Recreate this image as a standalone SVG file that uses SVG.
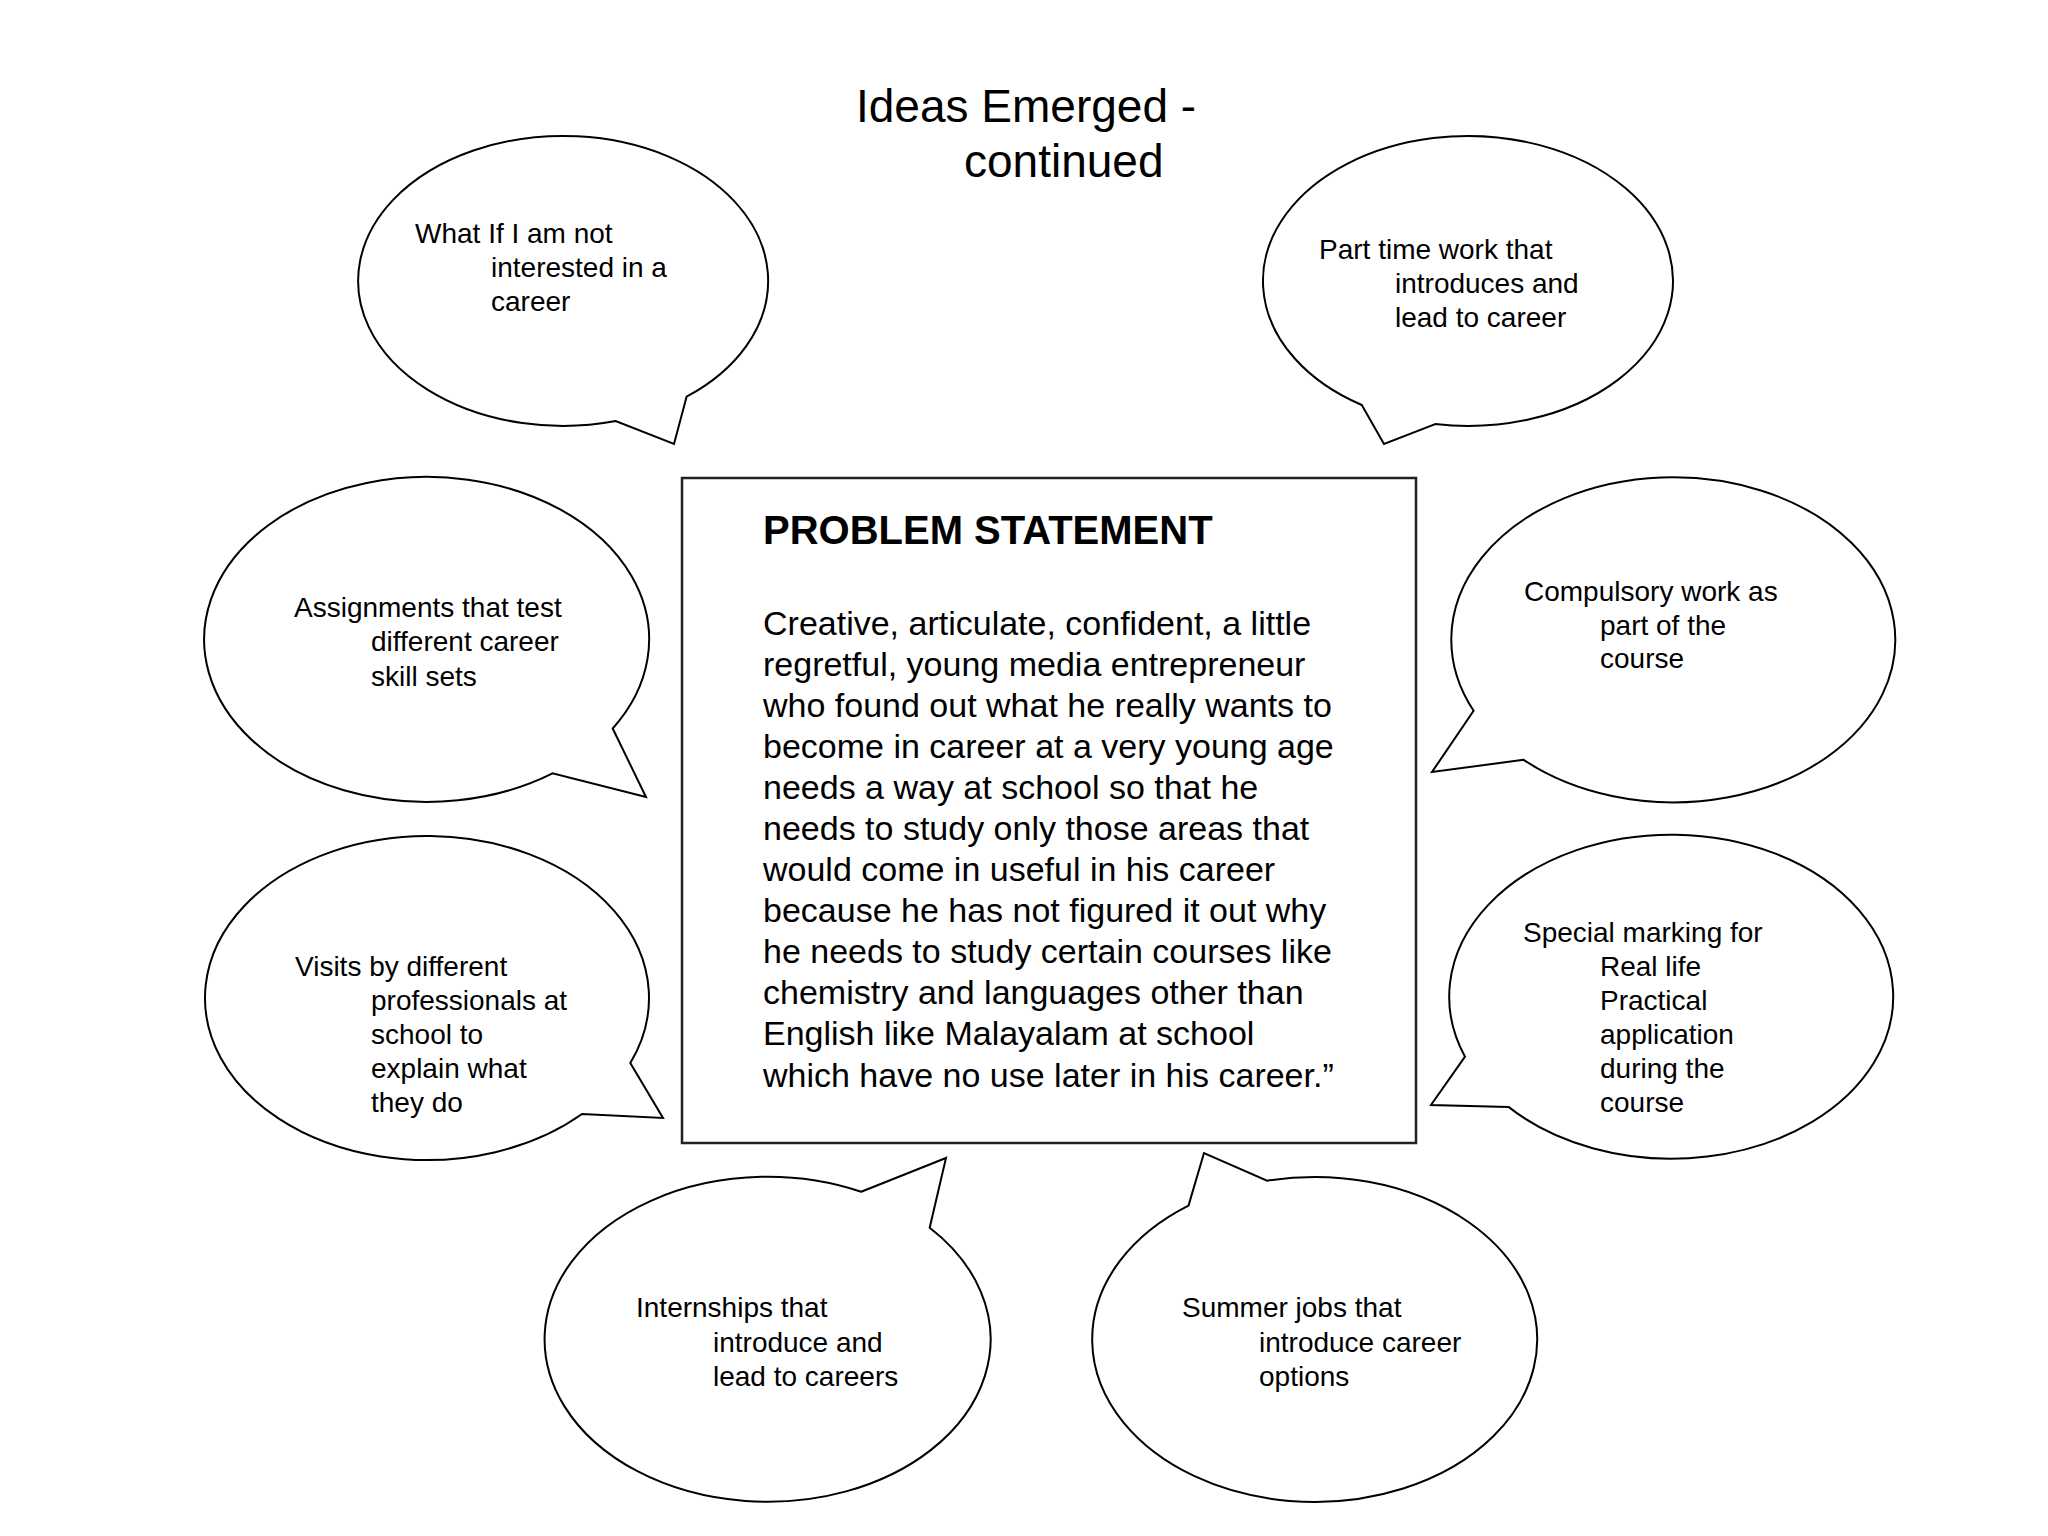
<svg xmlns="http://www.w3.org/2000/svg" width="2048" height="1536" viewBox="0 0 2048 1536">
<style>
.bg{fill:#fff}
.bubble{fill:#fff;stroke:#000;stroke-width:2;stroke-linejoin:miter}
.box{fill:#fff;stroke:#222;stroke-width:2.5}
.t{font-family:"Liberation Sans",Arial,sans-serif;fill:#000}
.title{font-size:46px}
.bt{font-size:28px}
.head{font-size:40px;font-weight:bold}
.body{font-size:34px}
</style>
<rect class="bg" x="0" y="0" width="2048" height="1536"/>
<g id="title">
<text class="t title" x="856" y="122">Ideas Emerged -</text>
<text class="t title" x="964" y="177">continued</text>
</g>
<g id="connectors"></g>
<g id="bubble-1">
<path class="bubble" d="M 686.6 396.7 L 674 444 L 615.7 421.1 A 205 145 0 1 1 686.6 396.7 Z"/>
<text class="t bt" x="415" y="243">What If I am not</text>
<text class="t bt" x="491" y="277">interested in a</text>
<text class="t bt" x="491" y="311">career</text>
</g>
<g id="bubble-2">
<path class="bubble" d="M 1435.2 424.1 L 1384 444 L 1361.8 405 A 205 145 0 1 1 1435.2 424.1 Z"/>
<text class="t bt" x="1319" y="259">Part time work that</text>
<text class="t bt" x="1395" y="293">introduces and</text>
<text class="t bt" x="1395" y="327">lead to career</text>
</g>
<g id="bubble-3">
<path class="bubble" d="M 612.7 728.5 L 646 797 L 552.5 773.4 A 222.5 162.5 0 1 1 612.7 728.5 Z"/>
<text class="t bt" x="294" y="617">Assignments that test</text>
<text class="t bt" x="371" y="651">different career</text>
<text class="t bt" x="371" y="686">skill sets</text>
</g>
<g id="bubble-4">
<path class="bubble" d="M 1523.6 759.8 L 1432 772 L 1473.6 710.8 A 222 162.5 0 1 1 1523.6 759.8 Z"/>
<text class="t bt" x="1524" y="601">Compulsory work as</text>
<text class="t bt" x="1600" y="635">part of the</text>
<text class="t bt" x="1600" y="668">course</text>
</g>
<g id="bubble-5">
<path class="bubble" d="M 630.3 1063.1 L 663 1118 L 582 1114 A 222 162 0 1 1 630.3 1063.1 Z"/>
<text class="t bt" x="295" y="976">Visits by different</text>
<text class="t bt" x="371" y="1010">professionals at</text>
<text class="t bt" x="371" y="1044">school to</text>
<text class="t bt" x="371" y="1078">explain what</text>
<text class="t bt" x="371" y="1112">they do</text>
</g>
<g id="bubble-6">
<path class="bubble" d="M 1508.5 1106.9 L 1431 1105 L 1465 1056.7 A 222 162 0 1 1 1508.5 1106.9 Z"/>
<text class="t bt" x="1523" y="942">Special marking for</text>
<text class="t bt" x="1600" y="976">Real life</text>
<text class="t bt" x="1600" y="1010">Practical</text>
<text class="t bt" x="1600" y="1044">application</text>
<text class="t bt" x="1600" y="1078">during the</text>
<text class="t bt" x="1600" y="1112">course</text>
</g>
<g id="bubble-7">
<path class="bubble" d="M 861.2 1191.8 L 946 1158 L 929.7 1227.7 A 223 162.5 0 1 1 861.2 1191.8 Z"/>
<text class="t bt" x="636" y="1317">Internships that</text>
<text class="t bt" x="713" y="1352">introduce and</text>
<text class="t bt" x="713" y="1386">lead to careers</text>
</g>
<g id="bubble-8">
<path class="bubble" d="M 1188.5 1205.6 L 1204 1153 L 1267.1 1180.7 A 222.5 162.5 0 1 1 1188.5 1205.6 Z"/>
<text class="t bt" x="1182" y="1317">Summer jobs that</text>
<text class="t bt" x="1259" y="1352">introduce career</text>
<text class="t bt" x="1259" y="1386">options</text>
</g>
<g id="problem-statement">
<rect class="box" x="682" y="478" width="734" height="665"/>
<text class="t head" x="763" y="544">PROBLEM STATEMENT</text>
<text class="t body" x="763" y="635">Creative, articulate, confident, a little</text>
<text class="t body" x="763" y="676">regretful, young media entrepreneur</text>
<text class="t body" x="763" y="717">who found out what he really wants to</text>
<text class="t body" x="763" y="758">become in career at a very young age</text>
<text class="t body" x="763" y="799">needs a way at school so that he</text>
<text class="t body" x="763" y="840">needs to study only those areas that</text>
<text class="t body" x="763" y="881">would come in useful in his career</text>
<text class="t body" x="763" y="922">because he has not figured it out why</text>
<text class="t body" x="763" y="963">he needs to study certain courses like</text>
<text class="t body" x="763" y="1004">chemistry and languages other than</text>
<text class="t body" x="763" y="1045">English like Malayalam at school</text>
<text class="t body" x="763" y="1087">which have no use later in his career.”</text>
</g>
</svg>
